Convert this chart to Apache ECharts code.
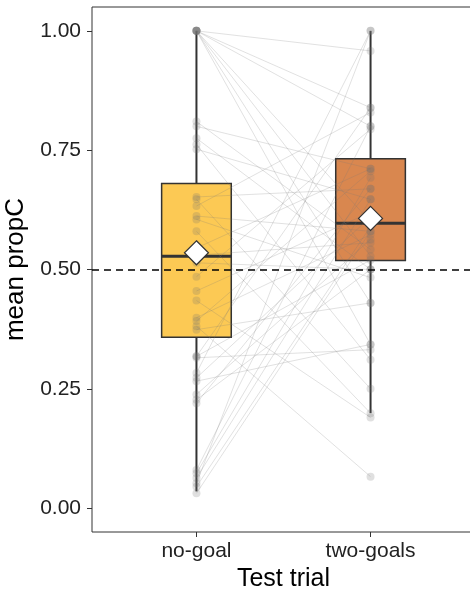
<!DOCTYPE html>
<html>
<head>
<meta charset="utf-8">
<script src="https://cdn.jsdelivr.net/npm/echarts@6/dist/echarts.min.js"></script>
<style>
  html, body { margin: 0; padding: 0; background: #fff; }
  #chart { width: 470px; height: 594px; }
</style>
</head>
<body>
<div id="chart"></div>
<script>
// categories on the x axis
const categories = ['no-goal', 'two-goals'];
// box stats: [min, Q1, median, Q3, max]
const boxNoGoal = [0.035, 0.358, 0.528, 0.680, 1.00];
const boxTwoGoals = [0.199, 0.519, 0.597, 0.732, 1.00];
const means = [0.535, 0.607];
const boxColors = ['#FCC954', '#D9874F'];
// per-participant mean propC, same index = same participant
const noGoal = [1.00, 1.00, 1.00, 1.00, 1.00, 1.00, 1.00,
  0.81, 0.80, 0.775, 0.762, 0.752,
  0.652, 0.647, 0.633, 0.612, 0.605, 0.58,
  0.545, 0.53, 0.514, 0.485, 0.455, 0.435,
  0.399, 0.392, 0.381, 0.374,
  0.318, 0.318, 0.315, 0.283, 0.273, 0.266,
  0.238, 0.227, 0.22,
  0.08, 0.073, 0.063, 0.052, 0.045, 0.031];
const twoGoals = [0.958, 0.839, 0.80, 0.60, 0.528, 0.43, 0.343,
  0.542, 0.711, 0.5, 0.311, 0.647,
  0.669, 0.25, 0.829, 0.58, 0.483, 0.199,
  0.711, 0.556, 0.5, 0.794, 0.62, 0.19,
  0.573, 0.706, 0.066, 0.43,
  0.839, 0.52, 0.332, 1.00, 0.61, 0.343,
  0.563, 0.5, 0.669,
  0.80, 0.692, 0.647, 1.00, 0.59, 0.58];
const yTicks = [0, 0.25, 0.5, 0.75, 1];
const chance = 0.5;

const chart = echarts.init(document.getElementById('chart'));
const font = 'Liberation Sans, Arial, sans-serif';

const boxData = [[1].concat(boxNoGoal), [2].concat(boxTwoGoals)];
const pairData = noGoal.map((v, i) => [v, twoGoals[i]]);
const pointData = noGoal.map(v => [1, v]).concat(twoGoals.map(v => [2, v]));
const meanData = means.map((v, i) => [i + 1, v]);

chart.setOption({
  animation: false,
  // panel runs a bit past the right edge, like the reference
  grid: { left: 92, top: 7, width: 383, height: 525, outerBoundsMode: 'none', containLabel: false,
    show: true, borderColor: '#333', borderWidth: 1 },
  xAxis: {
    type: 'value', min: 0.4, max: 2.6,
    name: 'Test trial', nameLocation: 'middle', nameGap: 33,
    nameTextStyle: { fontFamily: font, fontSize: 25, color: '#000' },
    axisLine: { show: false, onZero: false },
    splitLine: { show: false },
    axisTick: { show: true, length: 5, customValues: [1, 2], lineStyle: { color: '#333' } },
    axisLabel: { customValues: [1, 2], margin: 9, fontFamily: font, fontSize: 21, color: '#222',
      formatter: v => categories[Math.round(v) - 1] }
  },
  yAxis: {
    type: 'value', min: -0.05, max: 1.05,
    name: 'mean propC', nameLocation: 'middle', nameGap: 54,
    nameTextStyle: { fontFamily: font, fontSize: 26, color: '#000' },
    axisLine: { show: false, onZero: false },
    splitLine: { show: false },
    axisTick: { show: true, length: 5, customValues: yTicks, lineStyle: { color: '#333' } },
    axisLabel: { customValues: yTicks, margin: 11, fontFamily: font, fontSize: 21, color: '#222',
      formatter: v => v.toFixed(2) }
  },
  series: [
    {
      type: 'custom', z: 1,
      data: boxData,
      renderItem: function (params, api) {
        const x = api.value(0);
        const pMin = api.coord([x, api.value(1)]);
        const pQ1 = api.coord([x, api.value(2)]);
        const pMed = api.coord([x, api.value(3)]);
        const pQ3 = api.coord([x, api.value(4)]);
        const pMax = api.coord([x, api.value(5)]);
        const half = api.size([0.4, 0])[0] / 2;
        const stroke = '#333';
        return {
          type: 'group',
          children: [
            { type: 'line', shape: { x1: pMin[0], y1: pMin[1], x2: pQ1[0], y2: pQ1[1] }, style: { stroke: stroke, lineWidth: 2 } },
            { type: 'line', shape: { x1: pQ3[0], y1: pQ3[1], x2: pMax[0], y2: pMax[1] }, style: { stroke: stroke, lineWidth: 2 } },
            { type: 'rect', shape: { x: pQ3[0] - half, y: pQ3[1], width: half * 2, height: pQ1[1] - pQ3[1] },
              style: { fill: boxColors[params.dataIndex], stroke: stroke, lineWidth: 1.5 } },
            { type: 'line', shape: { x1: pMed[0] - half, y1: pMed[1], x2: pMed[0] + half, y2: pMed[1] }, style: { stroke: stroke, lineWidth: 3 } }
          ]
        };
      }
    },
    {
      type: 'custom', z: 2,
      data: pairData,
      renderItem: function (params, api) {
        const a = api.coord([1, api.value(0)]);
        const b = api.coord([2, api.value(1)]);
        return { type: 'line', shape: { x1: a[0], y1: a[1], x2: b[0], y2: b[1] },
          style: { stroke: 'rgba(120,120,120,0.22)', lineWidth: 1 } };
      }
    },
    {
      type: 'scatter', z: 3,
      data: pointData,
      symbolSize: 8,
      itemStyle: { color: 'rgba(110,110,110,0.27)' },
      markLine: {
        silent: true, symbol: 'none', z: 4,
        label: { show: false },
        lineStyle: { color: '#000', type: [7, 5], width: 1.5 },
        data: [{ yAxis: chance }]
      }
    },
    {
      type: 'scatter', z: 5,
      data: meanData,
      symbol: 'diamond', symbolSize: 24,
      itemStyle: { color: '#fff', opacity: 1, borderColor: '#333', borderWidth: 1.2 }
    }
  ]
});
</script>
</body>
</html>
